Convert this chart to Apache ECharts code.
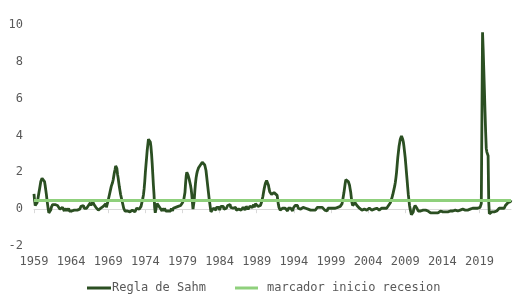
<!DOCTYPE html>
<html>
<head>
<meta charset="utf-8">
<script src="https://cdn.jsdelivr.net/npm/echarts@6/dist/echarts.min.js"></script>
<style>html,body{margin:0;padding:0;background:#fff}#c{width:524px;height:300px}</style>
</head>
<body>
<div id="c"></div>
<script>
// Monthly series, starting December 1959
var startYear = 1959, startMonth = 12;
var sahmValues = [
0.83,
0.45,0.2,0.15,0.2,0.35,0.5,0.7,0.9,1.1,1.3,1.5,1.6,
1.68,1.7,1.72,1.65,1.5,1.3,1.05,0.8,0.5,0.25,0.0,-0.2,
-0.3,-0.2,-0.05,0.1,0.2,0.25,0.3,0.35,0.3,0.25,0.2,0.25,
0.3,0.2,0.25,0.1,0.15,0.0,0.1,0.05,-0.05,0.1,0.1,0.0,
-0.1,0.05,0.0,-0.1,0.05,-0.1,-0.05,0.05,-0.1,-0.1,0.0,0.0,
-0.1,-0.1,0.0,-0.15,-0.05,0.0,-0.15,-0.1,-0.1,-0.05,-0.15,-0.1,
-0.1,0.0,0.0,0.15,0.2,0.25,0.15,0.2,0.05,0.15,0.1,0.0,
0.05,0.15,0.1,0.2,0.25,0.3,0.35,0.2,0.2,0.3,0.4,0.3,
0.25,0.15,0.2,0.1,0.0,0.05,0.05,-0.05,0.0,0.05,0.0,0.05,
0.0,0.05,0.05,0.15,0.1,0.15,0.25,0.3,0.1,0.2,0.35,0.5,
0.65,0.8,0.95,1.1,1.25,1.35,1.45,1.6,1.8,2.0,2.15,2.35,
2.45,2.2,1.9,1.7,1.45,1.2,1.0,0.8,0.65,0.5,0.35,0.2,
0.05,0.0,-0.1,-0.05,-0.15,-0.05,-0.1,-0.1,-0.15,-0.05,-0.15,-0.1,
-0.1,-0.2,-0.05,-0.1,-0.1,0.0,-0.15,-0.05,-0.1,0.05,-0.05,0.05,
-0.05,0.0,0.0,0.05,0.15,0.3,0.45,0.6,0.8,1.1,1.5,2.0,
2.4,2.8,3.2,3.5,3.8,3.9,3.8,3.65,3.4,3.0,2.5,1.9,
1.3,0.8,0.1,-0.2,-0.1,0.15,0.3,0.35,0.2,0.25,0.1,0.15,
0.0,0.05,-0.1,0.05,0.0,-0.1,0.05,0.0,-0.1,-0.05,-0.1,-0.05,
-0.1,-0.05,-0.1,-0.05,-0.1,0.05,-0.05,-0.1,0.05,0.0,0.1,0.05,
0.1,0.0,0.15,0.1,0.15,0.1,0.25,0.15,0.2,0.3,0.25,0.35,
0.45,0.5,0.6,0.9,1.4,1.8,2.0,1.95,1.85,1.75,1.6,1.45,
1.3,1.1,0.8,0.4,0.0,-0.07,0.5,1.0,1.4,1.7,1.9,2.05,
2.15,2.25,2.3,2.35,2.4,2.45,2.5,2.55,2.55,2.5,2.45,2.4,
2.35,2.1,1.8,1.5,1.2,0.9,0.6,0.35,0.1,-0.15,-0.2,-0.1,
-0.05,0.05,0.0,0.1,0.05,-0.05,0.1,0.05,0.15,0.05,0.1,-0.05,
0.05,0.15,0.1,0.2,0.1,0.15,0.0,0.1,0.05,-0.05,0.05,0.1,
0.2,0.25,0.3,0.2,0.25,0.1,0.15,0.0,0.1,0.05,-0.05,0.05,
0.0,0.1,-0.05,0.0,-0.05,0.05,0.0,0.1,0.05,0.1,-0.05,0.05,
0.0,0.1,0.05,0.1,-0.05,0.05,0.15,0.1,0.15,0.0,0.1,0.05,
0.15,0.05,0.1,0.2,0.1,0.15,0.25,0.1,0.2,0.3,0.2,0.25,
0.2,0.15,0.25,0.2,0.25,0.2,0.3,0.4,0.55,0.7,0.9,1.1,
1.25,1.4,1.5,1.55,1.58,1.45,1.3,1.1,0.95,0.9,0.85,0.8,
0.85,0.75,0.85,0.9,0.95,1.0,0.85,0.85,0.75,0.5,0.25,0.1,
0.05,-0.05,0.05,0.0,-0.1,0.05,0.05,-0.05,-0.05,0.05,0.05,-0.05,
0.0,-0.1,0.05,0.05,-0.05,-0.05,0.05,0.05,0.0,-0.1,0.05,0.05,
0.1,0.2,0.15,0.25,0.15,0.2,0.05,0.1,-0.05,0.05,0.0,0.05,
0.1,0.0,0.1,0.2,0.15,0.2,0.05,0.1,-0.05,0.05,0.0,-0.05,
0.05,0.05,-0.05,-0.05,0.05,0.05,-0.05,-0.05,0.05,0.05,-0.05,0.05,
0.0,0.1,0.05,0.1,0.0,0.1,0.05,0.15,0.2,0.1,0.15,0.0,
0.05,-0.05,0.05,0.0,0.05,-0.1,0.05,0.0,0.05,-0.05,0.05,0.0,
0.05,0.0,0.05,0.0,0.1,0.0,0.05,0.0,0.1,0.05,0.1,0.15,
0.15,0.1,0.15,0.2,0.25,0.3,0.5,0.7,0.9,1.15,1.4,1.6,
1.63,1.6,1.55,1.5,1.45,1.3,1.1,0.9,0.6,0.35,0.2,0.17,
0.25,0.2,0.35,0.3,0.35,0.2,0.3,0.15,0.2,0.05,0.1,0.0,
0.05,-0.05,0.05,0.05,-0.05,0.0,0.05,-0.05,0.0,-0.05,0.05,0.0,
-0.05,0.05,-0.05,0.0,0.05,-0.05,0.0,-0.1,0.05,0.0,0.0,-0.05,
0.0,0.05,-0.05,0.0,0.05,-0.05,0.05,0.0,-0.05,0.05,-0.05,0.0,
0.0,0.05,0.0,0.05,0.1,0.05,0.15,0.1,0.2,0.25,0.3,0.35,
0.45,0.55,0.65,0.8,0.95,1.1,1.25,1.45,1.7,2.0,2.4,2.8,
3.1,3.4,3.6,3.8,3.9,3.97,3.9,3.8,3.65,3.4,3.1,2.8,
2.4,2.0,1.6,1.2,0.8,0.5,0.2,0.0,-0.15,-0.3,-0.38,-0.3,
-0.15,0.05,0.0,0.2,0.1,0.2,0.05,0.1,-0.1,-0.05,-0.15,-0.05,
-0.1,-0.15,-0.05,-0.1,-0.05,-0.15,-0.05,-0.15,-0.05,-0.1,-0.05,-0.15,
-0.1,-0.2,-0.05,-0.15,-0.2,-0.1,-0.15,-0.1,-0.2,-0.1,-0.15,-0.1,
-0.2,-0.1,-0.15,-0.1,-0.2,-0.15,-0.1,-0.2,-0.1,-0.15,-0.2,-0.1,
-0.15,-0.1,-0.15,-0.05,-0.15,-0.1,-0.15,-0.05,-0.15,-0.1,-0.15,-0.05,
-0.1,0.0,-0.1,-0.05,-0.1,0.0,-0.05,-0.1,-0.05,0.0,-0.1,-0.05,
-0.1,0.0,-0.1,-0.15,-0.05,-0.1,-0.05,-0.1,0.0,-0.1,-0.05,0.0,
-0.05,0.0,-0.05,0.05,-0.05,0.0,-0.05,0.05,0.0,-0.05,0.05,0.0,
0.05,0.0,0.05,-0.05,0.05,0.0,0.1,0.0,0.05,0.0,0.1,0.05,
0.1,0.1,0.3,5.0,9.6,8.7,7.6,6.5,5.3,4.2,3.3,3.1,
3.0,2.9,0.4,-0.25,-0.35,-0.3,-0.25,-0.15,-0.2,-0.15,-0.1,-0.15,
-0.1,-0.15,-0.05,-0.1,-0.1,-0.05,-0.1,0.05,0.0,0.05,0.0,0.05,
0.05,0.1,0.15,0.05,0.15,0.2,0.1,0.2,0.3,0.35,0.25,0.4,
0.45,0.4,0.48
];
var recessionThreshold = 0.5;
var yTicks = {min: -2, max: 10, step: 2};
var labelEvery = 60; // months between year labels
var seriesNames = ['Regla de Sahm', 'marcador inicio recesion'];

var categories = [];
for (var i = 0; i < sahmValues.length; i++) {
  var m = startMonth - 1 + i;
  categories.push(String(startYear + Math.floor(m / 12)));
}

var font = 'DejaVu Sans Mono';
var grey = '#595959';
var dark = '#2b4f22';
var light = '#8fd07c';
var chart = echarts.init(document.getElementById('c'), null, {renderer: 'canvas'});
chart.setOption({
  animation: false,
  textStyle: {fontFamily: font},
  grid: {left: 34, right: 13, top: 25, bottom: 54},
  legend: [
    {data: [{name: seriesNames[0], icon: 'rect'}], left: 82, top: 277, itemWidth: 24, itemHeight: 3,
     itemGap: 0, textStyle: {color: grey, fontSize: 12, fontFamily: font, padding: [0,0,0,-4]}},
    {data: [{name: seriesNames[1], icon: 'rect'}], left: 230, top: 277, itemWidth: 23, itemHeight: 3,
     itemGap: 0, textStyle: {color: grey, fontSize: 12, fontFamily: font, padding: [0,0,0,4]}}
  ],
  xAxis: [
    {type: 'category', data: categories, boundaryGap: false,
     axisLine: {show: false, onZero: false}, axisTick: {show: false},
     axisLabel: {interval: labelEvery - 1, color: grey, fontSize: 12, fontFamily: font, margin: 10},
     splitLine: {show: false}},
    {type: 'category', data: categories, boundaryGap: false, position: 'bottom',
     axisLine: {show: true, onZero: true, lineStyle: {color: '#d9d9d9', width: 1}},
     axisTick: {show: true, interval: labelEvery - 1, length: 4, lineStyle: {color: '#d9d9d9'}},
     axisLabel: {show: false}, splitLine: {show: false}}
  ],
  yAxis: {type: 'value', min: yTicks.min, max: yTicks.max, interval: yTicks.step,
    axisLine: {show: false}, axisTick: {show: false}, splitLine: {show: false},
    axisLabel: {color: grey, fontSize: 12, fontFamily: font, margin: 11}},
  series: [
    {name: seriesNames[0], type: 'line', data: sahmValues, showSymbol: false, symbol: 'none',
     lineStyle: {color: dark, width: 2.8}, itemStyle: {color: dark}, z: 3},
    {name: seriesNames[1], type: 'line', data: [], symbol: 'none',
     lineStyle: {color: light, width: 3}, itemStyle: {color: light}, z: 4,
     markLine: {silent: true, symbol: 'none', label: {show: false},
       lineStyle: {color: light, width: 3, type: 'solid'},
       data: [{yAxis: recessionThreshold}]}}
  ]
});
</script>
</body>
</html>
